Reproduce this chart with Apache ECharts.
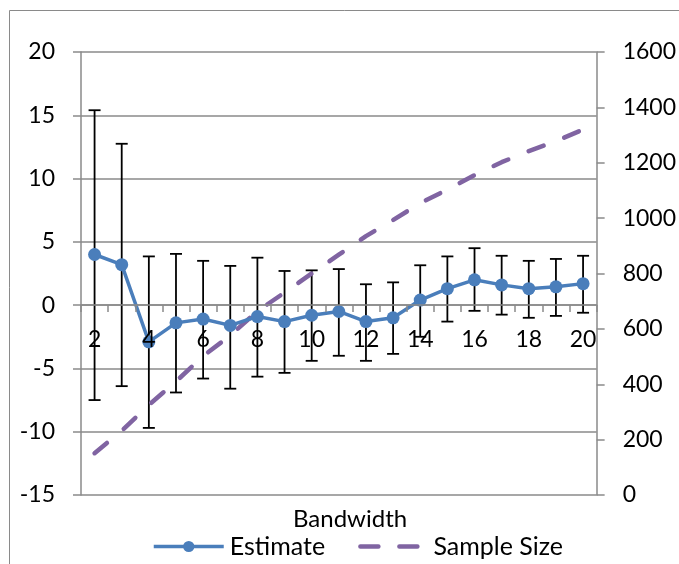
<!DOCTYPE html>
<html>
<head>
<meta charset="utf-8">
<script src="https://cdn.jsdelivr.net/npm/echarts@6/dist/echarts.min.js"></script>
<style>html,body{margin:0;padding:0;background:#fff}#c{width:679px;height:564px}</style>
</head>
<body>
<div id="c"></div>
<script>
const categories = ['2','3','4','5','6','7','8','9','10','11','12','13','14','15','16','17','18','19','20'];
const estimate = [4.0, 3.2, -2.9, -1.4, -1.1, -1.6, -0.9, -1.3, -0.8, -0.5, -1.3, -1.0, 0.4, 1.3, 2.0, 1.6, 1.3, 1.45, 1.7];
const errLow = [-7.5, -6.4, -9.7, -6.9, -5.8, -6.6, -5.65, -5.35, -4.4, -4.0, -4.4, -3.85, -2.5, -1.3, -0.45, -0.75, -1.0, -0.85, -0.6];
const errHigh = [15.4, 12.75, 3.85, 4.05, 3.5, 3.1, 3.75, 2.7, 2.75, 2.85, 1.65, 1.8, 3.15, 3.85, 4.5, 3.9, 3.5, 3.65, 3.9];
const sampleSize = [151, 232, 325, 410, 502, 576, 664, 731, 800, 868, 935, 993, 1054, 1103, 1155, 1202, 1242, 1278, 1320];
const leftTicks = {min: -15, max: 20, interval: 5};
const rightTicks = {min: 0, max: 1600, interval: 200};

const FONT = 'Lato';
const GRID = '#8a8a8a';
const BLUE = '#4A7EBB';
const PURPLE = '#8064A2';
const chart = echarts.init(document.getElementById('c'), null, {renderer: 'canvas'});
const errData = categories.map((c, i) => [i, errLow[i], errHigh[i]]);

// grid: plot height 443px for 35 units -> zero line 15 units above bottom
const plotH = 443;
const zeroOffset = plotH * (0 - leftTicks.min) / (leftTicks.max - leftTicks.min);

chart.setOption({
  animation: false,
  textStyle: {fontFamily: FONT},
  graphic: [{
    type: 'rect', silent: true, z: -10,
    shape: {x: 9.5, y: 10.5, width: 720, height: 620},
    style: {fill: 'none', stroke: '#8a8a8a', lineWidth: 1}
  }],
  title: {
    text: 'Bandwidth', left: 293, top: 507, padding: 0,
    textStyle: {fontFamily: FONT, fontSize: 24, fontWeight: 'normal', color: '#000'}
  },
  legend: {
    top: 534, left: 152, padding: 0,
    itemWidth: 70, itemHeight: 14, itemGap: 30,
    textStyle: {fontFamily: FONT, fontSize: 25, color: '#000', padding: [0, 0, 0, 1]},
    data: [
      {name: 'Estimate', lineStyle: {width: 3.5, color: BLUE}},
      {name: 'Sample Size', itemStyle: {opacity: 0}, lineStyle: {width: 4.5, color: PURPLE, type: [18, 21], cap: 'round', dashOffset: -3}}
    ]
  },
  grid: {left: 81, right: 78, top: 52, bottom: 69},
  xAxis: {
    type: 'category', data: categories, boundaryGap: true, z: 10,
    offset: -Math.round(zeroOffset),
    axisLine: {show: true, onZero: false, lineStyle: {color: GRID, width: 1.5}},
    axisTick: {show: true, interval: 0, length: 7, lineStyle: {color: GRID, width: 1.5}},
    axisLabel: {interval: 1, margin: 23, fontFamily: FONT, fontSize: 23, color: '#000'},
    splitLine: {show: false}
  },
  yAxis: [{
    type: 'value', min: leftTicks.min, max: leftTicks.max, interval: leftTicks.interval,
    axisLine: {show: true, lineStyle: {color: GRID, width: 1.5}},
    axisTick: {show: true, length: 8, lineStyle: {color: GRID, width: 1.5}},
    axisLabel: {margin: 26, fontFamily: FONT, fontSize: 23, color: '#000'},
    splitLine: {show: true, lineStyle: {color: GRID, width: 1.5}}
  }, {
    type: 'value', min: rightTicks.min, max: rightTicks.max, interval: rightTicks.interval,
    position: 'right', alignTicks: false,
    axisLine: {show: true, lineStyle: {color: GRID, width: 1.5}},
    axisTick: {show: true, length: 8, lineStyle: {color: GRID, width: 1.5}},
    axisLabel: {margin: 26, fontFamily: FONT, fontSize: 23, color: '#000', formatter: v => String(v)},
    splitLine: {show: false}
  }],
  series: [{
    name: 'errors', type: 'custom', yAxisIndex: 0, z: 3,
    data: errData,
    encode: {x: 0, y: [1, 2]},
    renderItem: function (params, api) {
      const i = api.value(0);
      const lo = api.coord([i, api.value(1)]);
      const hi = api.coord([i, api.value(2)]);
      const hw = 6;
      const st = {stroke: '#000', lineWidth: 1.8};
      return {type: 'group', children: [
        {type: 'line', shape: {x1: lo[0], y1: lo[1], x2: hi[0], y2: hi[1]}, style: st},
        {type: 'line', shape: {x1: lo[0] - hw, y1: lo[1], x2: lo[0] + hw, y2: lo[1]}, style: st},
        {type: 'line', shape: {x1: hi[0] - hw, y1: hi[1], x2: hi[0] + hw, y2: hi[1]}, style: st}
      ]};
    }
  }, {
    name: 'Sample Size', type: 'line', yAxisIndex: 1, z: 4,
    data: sampleSize, symbol: 'none', smooth: false,
    itemStyle: {color: PURPLE},
    lineStyle: {color: PURPLE, width: 4.5, type: [16, 22], cap: 'round'}
  }, {
    name: 'Estimate', type: 'line', yAxisIndex: 0, z: 5,
    data: estimate, symbol: 'circle', symbolSize: 13,
    itemStyle: {color: BLUE},
    lineStyle: {color: BLUE, width: 3.5}
  }]
});
</script>
</body>
</html>
